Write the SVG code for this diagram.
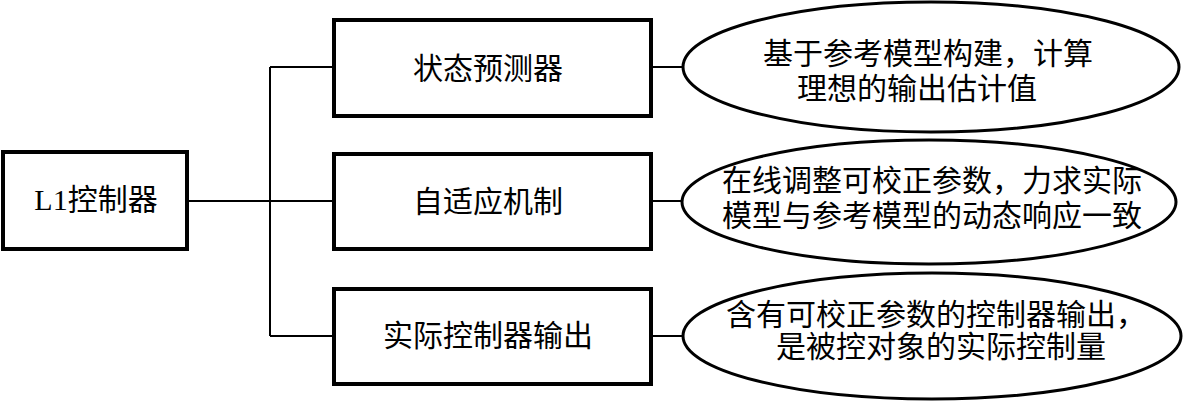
<svg xmlns="http://www.w3.org/2000/svg" width="1191" height="401" viewBox="0 0 1191 401">
<style>
.box{fill:#fff;stroke:#000;stroke-width:4}
.ell{fill:#fff;stroke:#000;stroke-width:3}
.ln{fill:none;stroke:#000;stroke-width:2}
text{font-family:"Liberation Serif","Noto Sans CJK SC",serif;font-size:30px;fill:#000;text-anchor:middle}
</style>
<rect width="1191" height="401" fill="#fff"/>
<g id="connectors">
<path class="ln" d="M188,201 H270 M270,67 V336 M270,67 H333 M270,201 H333 M270,336 H333"/>
<path class="ln" d="M652,67 H684 M652,201 H683 M652,336 H684"/>
</g>
<g id="n-l1"><rect class="box" x="3" y="152" width="184" height="97"/><text x="96" y="210">L1控制器</text></g>
<g id="n-state"><rect class="box" x="334" y="20" width="317" height="96"/><text x="488" y="79">状态预测器</text></g>
<g id="n-adapt"><rect class="box" x="334" y="154" width="317" height="95"/><text x="488" y="212">自适应机制</text></g>
<g id="n-out"><rect class="box" x="334" y="289" width="317" height="95"/><text x="488" y="346">实际控制器输出</text></g>
<g id="e-state"><ellipse class="ell" cx="931" cy="67" rx="248" ry="65"/><text x="928" y="64">基于参考模型构建，计算</text><text x="917" y="99">理想的输出估计值</text></g>
<g id="e-adapt"><ellipse class="ell" cx="929" cy="202" rx="247" ry="62"/><text x="932" y="191">在线调整可校正参数，力求实际</text><text x="932" y="226">模型与参考模型的动态响应一致</text></g>
<g id="e-out"><ellipse class="ell" cx="932" cy="336" rx="249" ry="63"/><text x="936" y="325">含有可校正参数的控制器输出，</text><text x="941" y="357">是被控对象的实际控制量</text></g>
</svg>
